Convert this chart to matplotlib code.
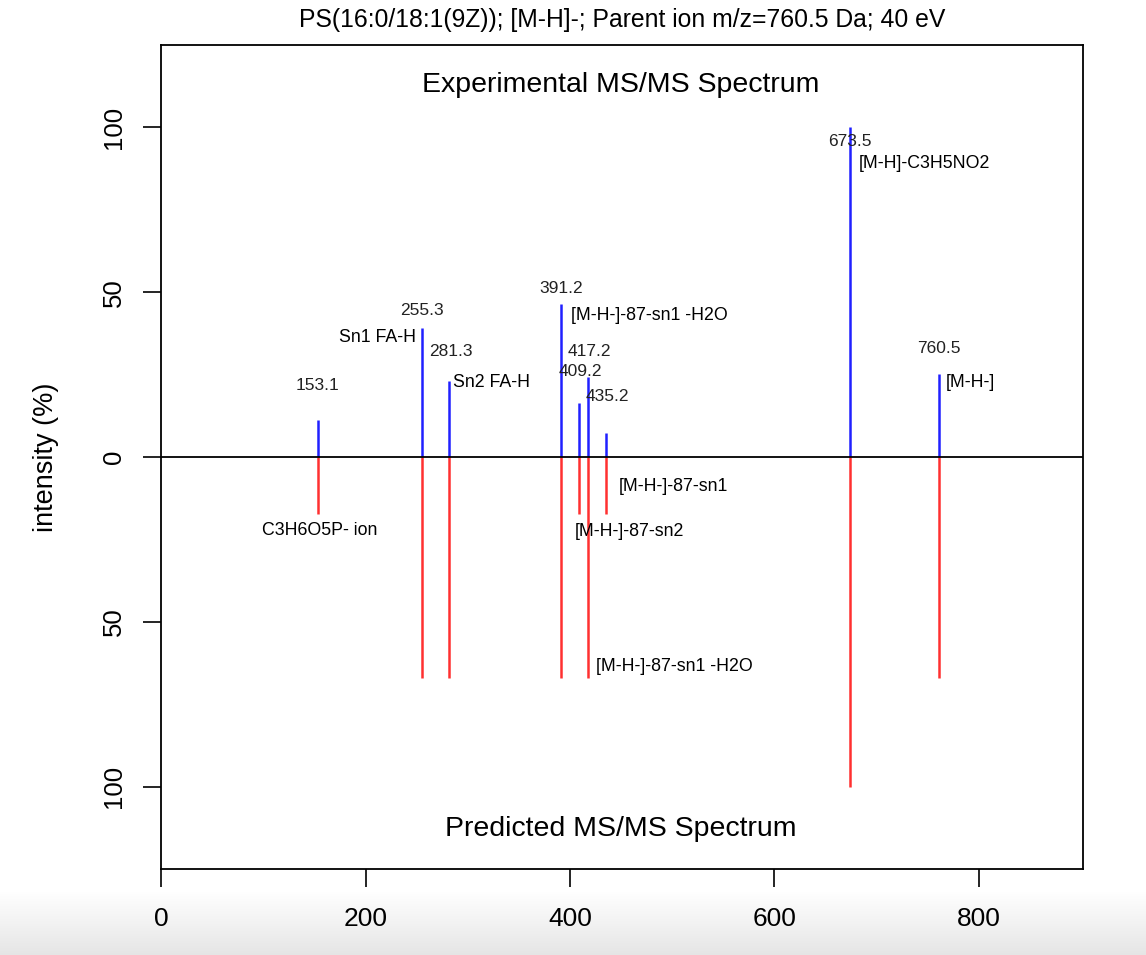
import numpy as np
import matplotlib
matplotlib.use("Agg")
import matplotlib.pyplot as plt

plt.rcParams['font.family'] = ['Liberation Sans', 'DejaVu Sans']

# peaks (m/z) and relative intensities
mz = [153.1, 255.3, 281.3, 391.2, 409.2, 417.2, 435.2, 673.5, 760.5]
exp_int = [11.2, 39.2, 23.1, 46.3, 16.3, 24.3, 7.2, 100.0, 25.2]
pred_int = [17.3, 67.0, 67.0, 67.0, 17.3, 67.0, 17.3, 100.0, 67.0]

# m/z labels above experimental peaks (x, y)
mz_lbl_x = [153.1, 255.3, 283.5, 391.2, 410.0, 418.5, 436.5, 673.5, 760.5]
mz_lbl_y = [21.8, 44.5, 32.0, 51.0, 26.0, 32.0, 18.5, 95.7, 33.0]

# fragment annotations on experimental side
exp_ann = ["Sn1 FA-H", "Sn2 FA-H", "[M-H-]-87-sn1 -H2O", "[M-H]-C3H5NO2", "[M-H-]"]
exp_ann_x = [249.5, 285.5, 400.8, 682.5, 767.5]
exp_ann_y = [36.4, 22.7, 43.0, 89.0, 22.7]
exp_ann_ha = ["right", "left", "left", "left", "left"]

# fragment annotations on predicted side
pred_ann = ["C3H6O5P- ion", "[M-H-]-87-sn1", "[M-H-]-87-sn2", "[M-H-]-87-sn1 -H2O"]
pred_ann_x = [155.5, 448.0, 405.0, 425.5]
pred_ann_y = [-22.4, -9.0, -22.7, -63.6]
pred_ann_ha = ["center", "left", "left", "left"]

fig = plt.figure(figsize=(11.46, 9.55), dpi=100)

# light grey shade along the bottom edge of the screenshot
bg = fig.add_axes([0, 0, 1, 0.066], zorder=-5)
g = np.linspace(0.90, 1.0, 60).reshape(-1, 1)
bg.imshow(np.dstack([g, g, g]), aspect='auto', extent=[0, 1, 0, 1], origin='lower')
bg.axis('off')

ax = fig.add_axes([0.1405, 0.090, 0.8045, 0.8629])
ax.patch.set_alpha(0)

ax.vlines(mz, 0, exp_int, color='#2020ff', lw=1.8)
ax.vlines(mz, 0, [-v for v in pred_int], color='#ff3030', lw=1.8)
ax.axhline(0, color='black', lw=1.3)

for x, y, t in zip(mz_lbl_x, mz_lbl_y, mz):
    ax.text(x, y, f"{t:.1f}", ha='center', va='center', fontsize=12.5, color='#222222')
for x, y, t, h in zip(exp_ann_x, exp_ann_y, exp_ann, exp_ann_ha):
    ax.text(x, y, t, ha=h, va='center', fontsize=12.8)
for x, y, t, h in zip(pred_ann_x, pred_ann_y, pred_ann, pred_ann_ha):
    ax.text(x, y, t, ha=h, va='center', fontsize=12.8)

ax.text(450, 113, "Experimental MS/MS Spectrum", ha='center', va='center', fontsize=20.5)
ax.text(450, -113, "Predicted MS/MS Spectrum", ha='center', va='center', fontsize=20.5)

ax.set_xlim(0, 901.7)
ax.set_ylim(-125, 125)
ax.set_xticks([0, 200, 400, 600, 800])
ax.set_xticklabels(["0", "200", "400", "600", "800"], fontsize=19)
yt = [-100, -50, 0, 50, 100]
ax.set_yticks(yt)
ax.set_yticklabels([str(abs(v)) for v in yt], fontsize=18.5, rotation=90, va='center')
ax.tick_params(direction='out', length=13, width=1.2)
ax.tick_params(axis='x', pad=14)
ax.tick_params(axis='y', pad=12)
for s in ax.spines.values():
    s.set_linewidth(1.3)

ax.set_ylabel("intensity (%)", fontsize=19.5, labelpad=31)
ax.set_title("PS(16:0/18:1(9Z)); [M-H]-; Parent ion m/z=760.5 Da; 40 eV",
             fontsize=17.8, pad=13)

fig.savefig("out.png", dpi=100)
